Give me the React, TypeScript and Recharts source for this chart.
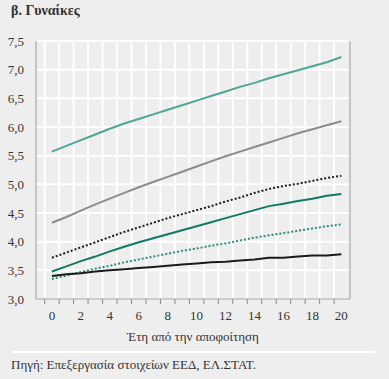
import React from 'react';
import { LineChart, Line, XAxis, YAxis, CartesianGrid, Label, ReferenceLine } from 'recharts';

const years = [0, 1, 2, 3, 4, 5, 6, 7, 8, 9, 10, 11, 12, 13, 14, 15, 16, 17, 18, 19, 20];
const tealLight = [5.57, 5.67, 5.77, 5.87, 5.97, 6.06, 6.14, 6.22, 6.30, 6.38, 6.46, 6.54, 6.62, 6.70, 6.77, 6.85, 6.92, 6.99, 7.06, 7.13, 7.22];
const grey = [4.33, 4.43, 4.54, 4.65, 4.75, 4.85, 4.95, 5.04, 5.13, 5.22, 5.31, 5.40, 5.49, 5.57, 5.65, 5.73, 5.81, 5.89, 5.96, 6.03, 6.10];
const blackDotted = [3.72, 3.81, 3.90, 3.99, 4.08, 4.17, 4.25, 4.33, 4.41, 4.48, 4.55, 4.62, 4.70, 4.77, 4.85, 4.92, 4.97, 5.01, 5.06, 5.11, 5.15];
const tealDark = [3.48, 3.57, 3.66, 3.74, 3.83, 3.91, 3.99, 4.06, 4.13, 4.20, 4.27, 4.34, 4.41, 4.48, 4.55, 4.62, 4.66, 4.71, 4.75, 4.80, 4.83];
const tealDotted = [3.35, 3.41, 3.47, 3.53, 3.58, 3.64, 3.69, 3.74, 3.79, 3.84, 3.88, 3.93, 3.97, 4.02, 4.07, 4.11, 4.15, 4.19, 4.23, 4.27, 4.30];
const black = [3.40, 3.43, 3.45, 3.48, 3.50, 3.52, 3.54, 3.56, 3.58, 3.60, 3.62, 3.64, 3.65, 3.67, 3.69, 3.72, 3.72, 3.74, 3.76, 3.76, 3.78];

const yTicks = [3, 3.5, 4, 4.5, 5, 5.5, 6, 6.5, 7, 7.5];
const xLabelTicks = [0, 2, 4, 6, 8, 10, 12, 14, 16, 18, 20];
// gridlines / tick marks sit between the years
const xGridTicks = [-0.5, ...years.slice(0, 20).map(y => y + 0.5)];
const xDomain = [-1.1, 20.6];

const data = years.map((y, i) => ({
  year: y,
  tealLight: tealLight[i],
  grey: grey[i],
  blackDotted: blackDotted[i],
  tealDark: tealDark[i],
  tealDotted: tealDotted[i],
  black: black[i],
}));

const font = "'Liberation Serif', 'Times New Roman', serif";
const fmt = (v: number) => v.toFixed(1).replace('.', ',');
const tickStyle = { fill: '#333', fontSize: 13, fontFamily: font };

const App: React.FC = () => (
  <div style={{ position: 'absolute', left: 0, top: 0, width: 389, height: 379, background: '#eeeeee', overflow: 'hidden' }}>
    <div style={{ position: 'absolute', left: 11, top: 3, fontSize: 14, fontWeight: 'bold', color: '#333', fontFamily: font }}>β. Γυναίκες</div>
    <div style={{ position: 'absolute', left: 0, top: 0 }}>
      <LineChart width={389} height={345} data={data} margin={{ top: 41, right: 0, left: 0, bottom: 0 }}>
        <CartesianGrid yAxisId="left" vertical={false} stroke="#ffffff" strokeWidth={2} />
        <XAxis dataKey="year" type="number" domain={xDomain} allowDataOverflow ticks={xLabelTicks}
          axisLine={{ stroke: '#999' }} tickLine={false} tickSize={0} tickMargin={12} height={46} tick={tickStyle} interval={0}>
          <Label value="Έτη από την αποφοίτηση" position="insideBottom" offset={4} style={{ fill: '#333', fontSize: 13, fontFamily: font }} />
        </XAxis>
        <YAxis yAxisId="left" orientation="left" domain={[3, 7.5]} ticks={yTicks} tickFormatter={fmt} width={36}
          tickLine={false} tickMargin={6} axisLine={{ stroke: '#999' }} tick={tickStyle} interval={0} />
        <YAxis yAxisId="right" orientation="right" domain={[3, 7.5]} ticks={yTicks} tickFormatter={fmt} width={39}
          tickLine={false} tickMargin={3} axisLine={{ stroke: '#999' }} tick={{ ...tickStyle, textAnchor: 'start' }} interval={0} />
        {xGridTicks.map(t => (
          <ReferenceLine key={'g' + t} yAxisId="left" x={t} stroke="#ffffff" strokeWidth={2} />
        ))}
        {xGridTicks.map(t => (
          <ReferenceLine key={'t' + t} yAxisId="left" ifOverflow="visible" stroke="#888888" strokeWidth={1}
            segment={[{ x: t, y: 3 }, { x: t, y: 2.91 }]} />
        ))}
        <Line yAxisId="left" dataKey="tealLight" stroke="#4fa596" strokeWidth={2} dot={false} isAnimationActive={false} />
        <Line yAxisId="left" dataKey="grey" stroke="#8c8c8c" strokeWidth={2} dot={false} isAnimationActive={false} />
        <Line yAxisId="left" dataKey="blackDotted" stroke="#1c1c1c" strokeWidth={2} strokeDasharray="2 2" dot={false} isAnimationActive={false} />
        <Line yAxisId="left" dataKey="tealDark" stroke="#0f7a63" strokeWidth={2} dot={false} isAnimationActive={false} />
        <Line yAxisId="left" dataKey="tealDotted" stroke="#2a8c7c" strokeWidth={2} strokeDasharray="2 2" dot={false} isAnimationActive={false} />
        <Line yAxisId="left" dataKey="black" stroke="#1c1c1c" strokeWidth={2} dot={false} isAnimationActive={false} />
      </LineChart>
    </div>
    <div style={{ position: 'absolute', left: 12, top: 351, width: 363, height: 2, background: '#ffffff' }} />
    <div style={{ position: 'absolute', left: 11, top: 357, fontSize: 13, color: '#333', fontFamily: font }}>Πηγή: Επεξεργασία στοιχείων ΕΕΔ, ΕΛ.ΣΤΑΤ.</div>
  </div>
);

export default App;
